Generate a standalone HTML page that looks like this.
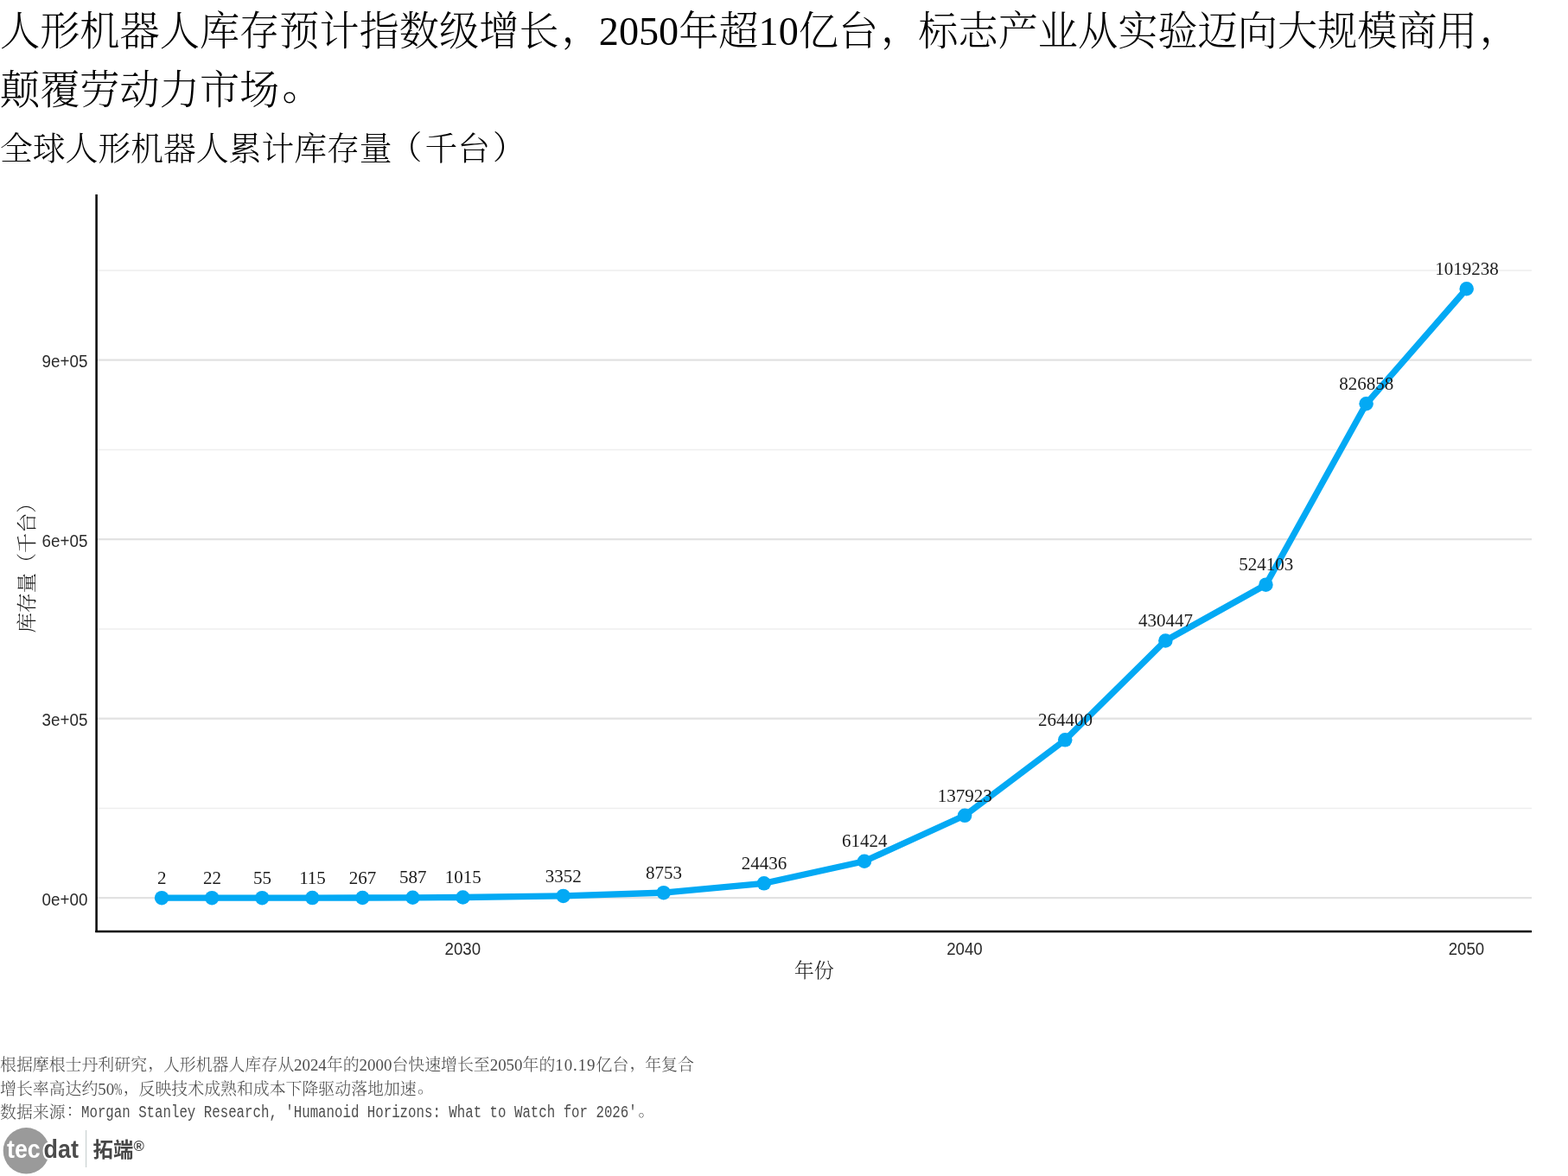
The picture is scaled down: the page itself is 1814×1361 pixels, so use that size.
<!DOCTYPE html>
<html lang="zh-CN">
<head>
<meta charset="utf-8">
<title>全球人形机器人累计库存量（千台）</title>
<style>
html,body{margin:0;padding:0;background:#fff;}
body{width:1814px;height:1361px;position:relative;overflow:hidden;font-family:"Liberation Serif","Noto Serif CJK SC",serif;color:#000;}
.title{position:absolute;left:0;top:3px;margin:0;font-size:46.2px;line-height:67.5px;font-weight:300;white-space:nowrap;}
.subtitle{position:absolute;left:0;top:146px;margin:0;font-size:37.8px;line-height:52px;font-weight:300;white-space:nowrap;}
.caption{position:absolute;left:0;top:1219px;margin:0;font-size:18.9px;line-height:27.9px;color:#4d4d4d;white-space:nowrap;font-weight:300;}
.pc{position:relative;left:0.06em;top:-0.09em;}
.pp{position:relative;left:0.07em;top:-0.09em;}
.po{position:relative;left:-0.08em;top:-0.03em;}
.pq{position:relative;left:0.08em;top:-0.03em;}
.caption .num{letter-spacing:0.05em;}
.caption .pct{display:inline-block;width:0.5em;transform:scaleX(0.6);transform-origin:0 50%;}
.caption .mono{display:inline-block;font-family:"Liberation Mono",monospace;font-size:19.5px;line-height:1;transform:translateY(-1.2px) scaleX(0.8077);transform-origin:0 50%;margin-right:-153px;font-weight:400;}
.caption .l3{position:relative;top:-1px;}
.logo{position:absolute;left:0;top:1296px;width:300px;height:65px;}
</style>
</head>
<body>
<h1 class="title">人形机器人库存预计指数级增长<span class="pc">，</span>2050年超10亿台<span class="pc">，</span>标志产业从实验迈向大规模商用<span class="pc">，</span><br>颠覆劳动力市场<span class="pp">。</span></h1>
<h2 class="subtitle">全球人形机器人累计库存量<span class="po">（</span>千台<span class="pq">）</span></h2>
<svg width="1814" height="1361" viewBox="0 0 1814 1361" style="position:absolute;left:0;top:0">
<line x1="112" x2="1772" y1="935.45" y2="935.45" stroke="#eeeeee" stroke-width="1.5"/>
<line x1="112" x2="1772" y1="727.95" y2="727.95" stroke="#eeeeee" stroke-width="1.5"/>
<line x1="112" x2="1772" y1="520.45" y2="520.45" stroke="#eeeeee" stroke-width="1.5"/>
<line x1="112" x2="1772" y1="312.95" y2="312.95" stroke="#eeeeee" stroke-width="1.5"/>
<line x1="112" x2="1772" y1="1039.20" y2="1039.20" stroke="#e2e2e2" stroke-width="2.2"/>
<line x1="112" x2="1772" y1="831.70" y2="831.70" stroke="#e2e2e2" stroke-width="2.2"/>
<line x1="112" x2="1772" y1="624.20" y2="624.20" stroke="#e2e2e2" stroke-width="2.2"/>
<line x1="112" x2="1772" y1="416.70" y2="416.70" stroke="#e2e2e2" stroke-width="2.2"/>
<polyline points="187.14,1039.20 245.20,1039.18 303.26,1039.16 361.32,1039.12 419.38,1039.02 477.44,1038.79 535.50,1038.50 651.62,1036.88 767.74,1033.15 883.86,1022.30 999.98,996.72 1116.10,943.80 1232.22,856.32 1348.34,741.47 1464.46,676.70 1580.58,467.29 1696.70,334.23" fill="none" stroke="#03a9f4" stroke-width="7.3" stroke-linejoin="round" stroke-linecap="butt"/>
<circle cx="187.14" cy="1039.20" r="8.25" fill="#03a9f4"/>
<circle cx="245.20" cy="1039.18" r="8.25" fill="#03a9f4"/>
<circle cx="303.26" cy="1039.16" r="8.25" fill="#03a9f4"/>
<circle cx="361.32" cy="1039.12" r="8.25" fill="#03a9f4"/>
<circle cx="419.38" cy="1039.02" r="8.25" fill="#03a9f4"/>
<circle cx="477.44" cy="1038.79" r="8.25" fill="#03a9f4"/>
<circle cx="535.50" cy="1038.50" r="8.25" fill="#03a9f4"/>
<circle cx="651.62" cy="1036.88" r="8.25" fill="#03a9f4"/>
<circle cx="767.74" cy="1033.15" r="8.25" fill="#03a9f4"/>
<circle cx="883.86" cy="1022.30" r="8.25" fill="#03a9f4"/>
<circle cx="999.98" cy="996.72" r="8.25" fill="#03a9f4"/>
<circle cx="1116.10" cy="943.80" r="8.25" fill="#03a9f4"/>
<circle cx="1232.22" cy="856.32" r="8.25" fill="#03a9f4"/>
<circle cx="1348.34" cy="741.47" r="8.25" fill="#03a9f4"/>
<circle cx="1464.46" cy="676.70" r="8.25" fill="#03a9f4"/>
<circle cx="1580.58" cy="467.29" r="8.25" fill="#03a9f4"/>
<circle cx="1696.70" cy="334.23" r="8.25" fill="#03a9f4"/>
<path d="M111.6 225 V1079.1" fill="none" stroke="#000" stroke-width="2.5"/>
<path d="M110.3 1078 H1772" fill="none" stroke="#000" stroke-width="2.3"/>
<g font-family="'Liberation Serif', serif" font-size="21" fill="#1a1a1a" text-anchor="middle">
<text x="187.34" y="1022.90">2</text>
<text x="245.40" y="1022.88">22</text>
<text x="303.46" y="1022.86">55</text>
<text x="361.52" y="1022.82">115</text>
<text x="419.58" y="1022.72">267</text>
<text x="477.64" y="1022.49">587</text>
<text x="535.70" y="1022.20">1015</text>
<text x="651.82" y="1020.58">3352</text>
<text x="767.94" y="1016.85">8753</text>
<text x="884.06" y="1006.00">24436</text>
<text x="1000.18" y="980.42">61424</text>
<text x="1116.30" y="927.50">137923</text>
<text x="1232.42" y="840.02">264400</text>
<text x="1348.54" y="725.17">430447</text>
<text x="1464.66" y="660.40">524103</text>
<text x="1580.78" y="450.99">826858</text>
<text x="1696.90" y="317.93">1019238</text>
</g>
<g font-family="'Liberation Sans', sans-serif" font-size="20" fill="#2b2b2b" text-anchor="end">
<text x="101.4" y="1047.50" textLength="52.8" lengthAdjust="spacingAndGlyphs">0e+00</text>
<text x="101.4" y="840.00" textLength="52.8" lengthAdjust="spacingAndGlyphs">3e+05</text>
<text x="101.4" y="632.50" textLength="52.8" lengthAdjust="spacingAndGlyphs">6e+05</text>
<text x="101.4" y="425.00" textLength="52.8" lengthAdjust="spacingAndGlyphs">9e+05</text>
</g>
<g font-family="'Liberation Sans', sans-serif" font-size="20" fill="#2b2b2b" text-anchor="middle">
<text x="535.30" y="1105" textLength="41.5" lengthAdjust="spacingAndGlyphs">2030</text>
<text x="1115.90" y="1105" textLength="41.5" lengthAdjust="spacingAndGlyphs">2040</text>
<text x="1696.50" y="1105" textLength="41.5" lengthAdjust="spacingAndGlyphs">2050</text>
</g>
<text x="941.8" y="1130.5" font-family="'Liberation Serif', 'Noto Serif CJK SC', serif" font-size="23.1" font-weight="300" fill="#1a1a1a" text-anchor="middle">年份</text>
<text transform="translate(39,651.5) rotate(-90)" font-family="'Liberation Serif', 'Noto Serif CJK SC', serif" font-size="23.1" font-weight="300" fill="#1a1a1a" text-anchor="middle">库存量（千台）</text>
</svg>
<p class="caption">根据摩根士丹利研究<span class="pc">，</span>人形机器人库存从2024年的2000台快速增长至2050年的<span class="num">10.19</span>亿台<span class="pc">，</span>年复合<br>增长率高达约50<span class="pct">%</span><span class="pc">，</span>反映技术成熟和成本下降驱动落地加速<span class="pp">。</span><br><span class="l3">数据来源<span class="pc">：</span><span class="mono">Morgan Stanley Research, 'Humanoid Horizons: What to Watch for 2026'</span><span class="pp">。</span></span></p>
<div class="logo">
<svg width="300" height="65" viewBox="0 0 300 65">
<circle cx="30.4" cy="35.8" r="26.7" fill="#9a9a9a"/>
<text x="8" y="43.7" font-family="'Liberation Sans', sans-serif" font-size="29" font-weight="700" fill="#ffffff" textLength="38.6" lengthAdjust="spacingAndGlyphs">tec</text>
<text x="50.6" y="43.7" font-family="'Liberation Sans', sans-serif" font-size="29" font-weight="700" fill="#4b4b4b" stroke="#ffffff" stroke-width="4.4" stroke-linejoin="round" paint-order="stroke" textLength="40.4" lengthAdjust="spacingAndGlyphs">dat</text>
<rect x="98.9" y="12" width="1.3" height="43" fill="#ccd3d3"/>
<text x="107.6" y="43.2" font-family="'Liberation Sans', 'Noto Sans CJK SC', sans-serif" font-size="23.4" font-weight="700" fill="#474747">拓端</text>
<text x="154.6" y="36.2" font-family="'Liberation Sans', sans-serif" font-size="17" font-weight="700" fill="#474747" textLength="12.4" lengthAdjust="spacingAndGlyphs">®</text>
</svg>
</div>
</body>
</html>
